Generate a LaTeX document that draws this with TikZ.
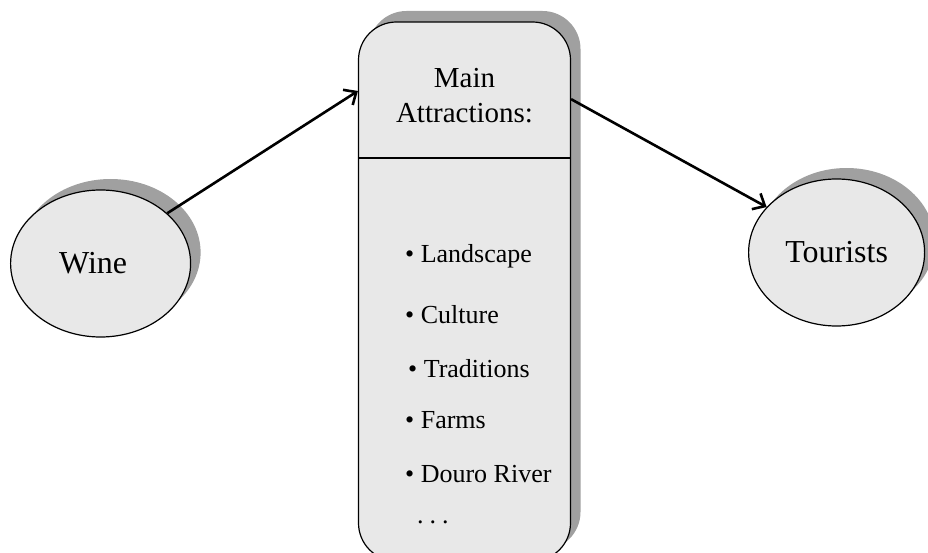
\documentclass[tikz,border=0pt]{standalone}
\usepackage{fontspec}
\setmainfont{Liberation Serif}
\usepackage{xcolor}
\usetikzlibrary{arrows.meta, shapes.geometric, shadows}

\definecolor{boxfill}{RGB}{232,232,232}
\definecolor{boxshade}{RGB}{160,160,160}

\tikzset{
  shade copy/.style={drop shadow={shadow xshift=10pt, shadow yshift=11pt, opacity=1, fill=boxshade}},
  oval/.style={ellipse, draw, line width=1.2pt, fill=boxfill, shade copy, inner sep=0pt,
               minimum height=147pt, font=\fontsize{32}{38}\selectfont},
  item/.style={anchor=base west, inner sep=0pt, font=\fontsize{26}{31}\selectfont},
  link/.style={line width=2.6pt, -{Straight Barb[length=10pt,width=18pt]}}
}

\begin{document}
\begin{tikzpicture}[x=1pt, y=-1pt]
    \clip (0,0) rectangle (928,553);                  % page size
    \node [oval, minimum width=180pt] (wine) at (100.6,263.5) {Wine\hspace*{15pt}};  % left oval
    \node [oval, minimum width=176pt] (tourists) at (836.6,252.5) {Tourists}; % right oval
    \node [draw, line width=1.2pt, fill=boxfill, shade copy, rounded corners=38pt,
           minimum width=212pt, minimum height=539pt] (attr) at (464.5,291.5) {}; % middle box
    \coordinate (split) at (464.5,158);
    \draw [line width=1.2pt] (attr.west |- split) -- (attr.east |- split); % divider
    \node [align=center, font=\fontsize{29}{35}\selectfont] (title) at (464.5,95.5) {Main\\Attractions:};
    \node [item] (land) at (405,262) {\textbullet\ Landscape};
    \node [item] (cult) at (405,323) {\textbullet\ Culture};
    \node [item] (trad) at (408,377) {\textbullet\ Traditions};
    \node [item] (farm) at (405,428) {\textbullet\ Farms};
    \node [item] (douro) at (405,482) {\textbullet\ Douro River};
    \node [item] (more) at (417,523) {.\kern6pt.\kern6pt.};
    \draw [link] (wine.37) -- (attr.118.6);           % wine to box
    \draw [link] (attr.61.5) -- (tourists.147);       % box to tourists
\end{tikzpicture}
\end{document}
